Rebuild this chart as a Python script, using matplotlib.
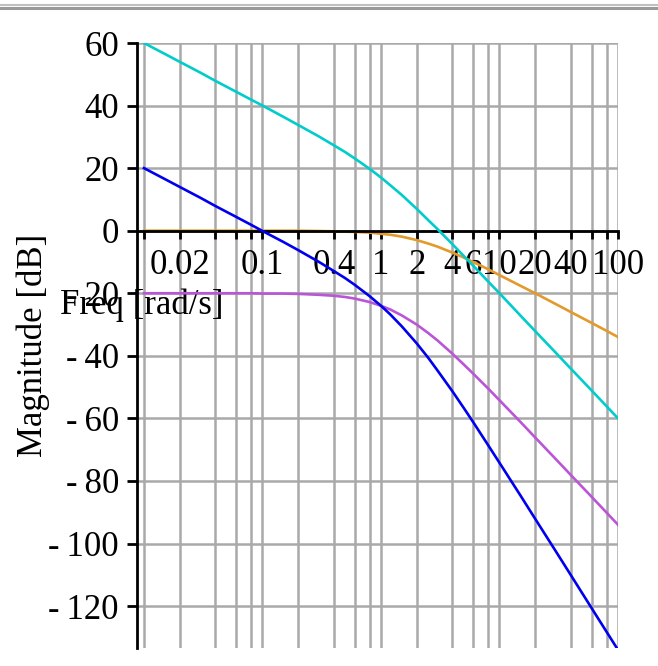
import numpy as np
import matplotlib
matplotlib.use("Agg")
import matplotlib.pyplot as plt
from matplotlib.lines import Line2D

plt.rcParams['font.family'] = ['Liberation Serif', 'DejaVu Serif']

# frequencies [rad/s] and magnitudes [dB]
freq = [0.01, 0.015, 0.02, 0.03, 0.04, 0.06, 0.08, 0.1, 0.15, 0.2, 0.3, 0.4, 0.5,
        0.6, 0.8, 1, 1.2, 1.5, 2, 2.5, 3, 4, 5, 6, 8, 10, 15, 20, 30, 40, 60, 80, 100]
mag_cyan = [60.0, 56.5, 54.0, 50.5, 47.9, 44.4, 41.9, 40.0, 36.4, 33.8, 30.1, 27.3, 25.1,
            23.1, 19.8, 17.0, 14.5, 11.4, 7.0, 3.4, 0.5, -4.3, -8.1, -11.2, -16.2, -20.0,
            -27.1, -32.1, -39.1, -44.1, -51.1, -56.1, -60.0]
mag_blue = [20.0, 16.5, 14.0, 10.5, 7.9, 4.4, 1.9, -0.1, -3.6, -6.2, -10.0, -12.9, -15.2,
            -17.3, -20.9, -24.0, -26.8, -30.6, -36.0, -40.6, -44.7, -51.3, -56.7, -61.2,
            -68.5, -74.2, -84.6, -92.1, -102.6, -110.1, -120.7, -128.2, -134.0]
mag_purple = [-20.0, -20.0, -20.0, -20.0, -20.0, -20.0, -20.0, -20.1, -20.1, -20.2, -20.5,
              -20.8, -21.2, -21.7, -22.8, -24.0, -25.2, -27.1, -30.0, -32.7, -35.1, -39.3,
              -42.8, -45.7, -50.4, -54.2, -61.1, -66.1, -73.1, -78.1, -85.1, -90.1, -94.0]
mag_orange = [0.0, 0.0, 0.0, 0.0, 0.0, 0.0, 0.0, 0.0, 0.0, 0.0, -0.1, -0.2, -0.3, -0.4,
              -0.6, -1.0, -1.3, -1.9, -3.0, -4.1, -5.1, -7.0, -8.6, -10.0, -12.3, -14.2,
              -17.6, -20.0, -23.5, -26.0, -29.5, -32.0, -34.0]

grid_x = [0.01, 0.02, 0.04, 0.06, 0.08, 0.1, 0.2, 0.4, 0.6, 0.8, 1, 2, 4, 6, 8,
          10, 20, 40, 60, 80, 100]
label_x = {0.02: '0.02', 0.1: '0.1', 0.4: '0.4', 1: '1', 2: '2', 4: '4', 6: '6',
           10: '10', 20: '20', 40: '40', 100: '100'}
y_ticks = [60, 40, 20, 0, -20, -40, -60, -80, -100, -120]

fig = plt.figure(figsize=(6.58, 6.66), dpi=100)
ax = fig.add_axes([137/658, 1 - 648/666, (618 - 137)/658, (648 - 43)/666])

gray = '#a9a9a9'
for gx in grid_x:
    ax.axvline(gx, color=gray, lw=1.8, zorder=1)
for gy in y_ticks:
    ax.axhline(gy, color=gray, lw=1.8, zorder=1)

ax.plot(freq, mag_orange, color='#e39a2a', lw=1.9, zorder=2)
ax.plot(freq, mag_cyan, color='#00cccc', lw=1.9, zorder=3)
ax.plot(freq, mag_purple, color='#bb55d8', lw=1.9, zorder=3)
ax.plot(freq, mag_blue, color='#0000ee', lw=1.9, zorder=3)

ax.set_xscale('log')
ax.set_xlim(0.00873, 100)
ax.set_ylim(-133.4, 60)

ax.spines['top'].set_visible(False)
ax.spines['right'].set_visible(False)
ax.spines['bottom'].set_position(('data', 0))
for s in ('left', 'bottom'):
    ax.spines[s].set_linewidth(2)
    ax.spines[s].set_zorder(2.5)

ax.xaxis.set_minor_locator(plt.NullLocator())
ax.set_xticks(grid_x)
ax.set_xticklabels([label_x.get(v, '') for v in grid_x])
ax.set_yticks(y_ticks)
ax.set_yticklabels([str(v) if v >= 0 else '-\u2009' + str(-v) for v in y_ticks])
ax.tick_params(axis='x', direction='out', length=6, width=2, pad=7, labelsize=25)
ax.tick_params(axis='y', direction='out', length=7, width=2, pad=6, labelsize=25)

ax.set_ylabel('Magnitude [dB]', fontsize=25)
ax.yaxis.set_label_coords(-0.18, 0.5)
ax.set_xlabel('Freq [rad/s]', fontsize=25)
ax.xaxis.label.set_va('center')
ax.xaxis.set_label_coords(0.01, 0.567)

# window border at the top
fig.add_artist(Line2D([0, 1], [1 - 4.8/666, 1 - 4.8/666], color='#c0c0c0', lw=1.5))
fig.add_artist(Line2D([0, 1], [1 - 7.5/666, 1 - 7.5/666], color='#9a9a9a', lw=2.2))

fig.savefig('out.png', dpi=100)
